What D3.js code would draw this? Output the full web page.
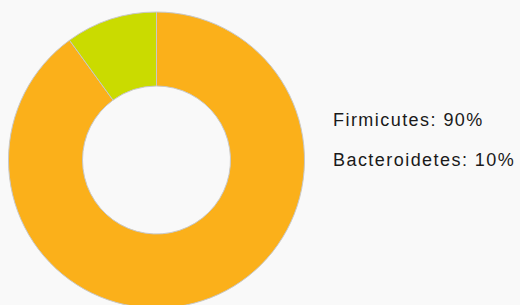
<!DOCTYPE html>
<html>
<head>
<meta charset="utf-8">
<script src="https://cdn.jsdelivr.net/npm/d3@7"></script>
<style>
    html, body { margin: 0; padding: 0; background: #f9f9f9; }
    svg { display: block; }
    .legend text { font-family: "Liberation Sans", Arial, sans-serif; font-size: 18px; letter-spacing: 1.45px; fill: #1a1a1a; }
</style>
</head>
<body>
<div id="main"></div>
<script>
const ctx = {
    w: 520,
    h: 305,
    cx: 156.5,
    cy: 160,
    R_OUT: 148,
    R_IN: 74,
};

const phyla = ["Firmicutes", "Bacteroidetes"];
const shares = [90, 10];
const colors = ["#fbb01a", "#cadb00"];

const color = d3.scaleOrdinal().domain(phyla).range(colors);

function createViz(){
    let svg = d3.select("#main").append("svg")
                .attr("width", ctx.w)
                .attr("height", ctx.h);

    let data = phyla.map((p, i) => ({name: p, value: shares[i]}));
    let pie = d3.pie().sort(null).value((d) => d.value);
    let arc = d3.arc().innerRadius(ctx.R_IN).outerRadius(ctx.R_OUT);

    svg.append("g")
       .attr("transform", `translate(${ctx.cx},${ctx.cy})`)
       .selectAll("path")
       .data(pie(data))
       .enter()
       .append("path")
       .attr("d", arc)
       .attr("fill", (d) => color(d.data.name))
       .attr("stroke", "#c8c8c8")
       .attr("stroke-width", 1);

    svg.append("g")
       .attr("class", "legend")
       .selectAll("text")
       .data(data)
       .enter()
       .append("text")
       .attr("x", 333)
       .attr("y", (d, i) => 126 + i * 40)
       .text((d) => d.name + ": " + d.value + "%");
}

createViz();
</script>
</body>
</html>
